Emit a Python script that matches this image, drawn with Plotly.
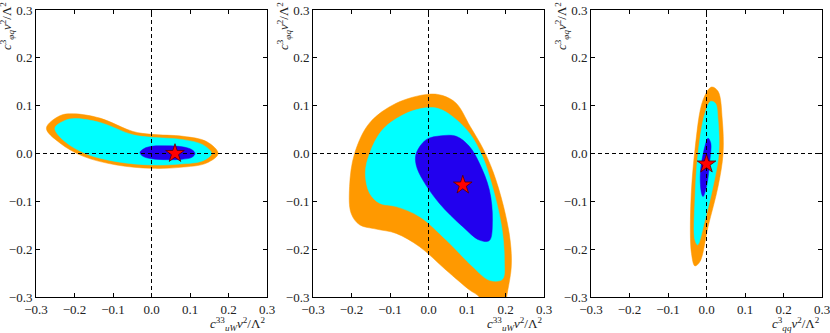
import plotly.graph_objects as go

# ---------------- data ----------------
# Panel 1: c_uW^33 vs c_phiq^3
p1_outer_x = [-0.273, -0.238, -0.203, -0.134, -0.048, 0.0, 0.082, 0.143, 0.173, 0.143, 0.074, 0.0, -0.091, -0.177, -0.238]
p1_outer_y = [0.053, 0.079, 0.083, 0.074, 0.046, 0.040, 0.036, 0.025, 0.0, -0.020, -0.029, -0.031, -0.024, -0.006, 0.022]
p1_mid_x = [-0.251, -0.225, -0.199, -0.134, -0.048, 0.0, 0.082, 0.134, 0.156, 0.134, 0.074, 0.0, -0.091, -0.169, -0.225]
p1_mid_y = [0.053, 0.069, 0.073, 0.065, 0.039, 0.034, 0.029, 0.018, 0.0, -0.015, -0.022, -0.024, -0.017, -0.001, 0.025]
p1_in_x = [-0.030, -0.020, 0.0, 0.040, 0.080, 0.105, 0.113, 0.105, 0.080, 0.040, 0.0, -0.022]
p1_in_y = [0.002, 0.010, 0.015, 0.016, 0.014, 0.008, 0.0, -0.008, -0.012, -0.013, -0.011, -0.006]
p1_best = (0.061, 0.0)

# Panel 2: c_uW^33 vs c_phiq^3 (other fit)
p2_outer_x = [0.0, -0.084, -0.153, -0.192, -0.205, -0.201, -0.179, -0.136, -0.084, -0.023, 0.046, 0.106, 0.132, 0.14, 0.2, 0.203, 0.215, 0.212, 0.195, 0.169, 0.143, 0.108, 0.072, 0.037]
p2_outer_y = [0.124, 0.105, 0.064, 0.0, -0.069, -0.125, -0.149, -0.158, -0.167, -0.195, -0.244, -0.285, -0.30, -0.32, -0.32, -0.30, -0.237, -0.181, -0.111, -0.041, 0.008, 0.057, 0.105, 0.121]
p2_mid_x = [0.0, -0.058, -0.119, -0.153, -0.164, -0.153, -0.127, -0.084, -0.023, 0.046, 0.115, 0.158, 0.192, 0.197, 0.190, 0.166, 0.140, 0.106, 0.063, 0.029]
p2_mid_y = [0.096, 0.084, 0.050, 0.0, -0.041, -0.083, -0.104, -0.111, -0.132, -0.181, -0.237, -0.265, -0.263, -0.222, -0.153, -0.069, -0.006, 0.043, 0.077, 0.093]
p2_in_x = [0.033, -0.006, -0.032, -0.032, -0.015, 0.028, 0.089, 0.132, 0.158, 0.166, 0.158, 0.132, 0.106, 0.072]
p2_in_y = [0.037, 0.029, 0.0, -0.024, -0.055, -0.104, -0.153, -0.181, -0.182, -0.139, -0.076, -0.020, 0.015, 0.036]
p2_best = (0.089, -0.066)

# Panel 3: c_qq^3 vs c_phiq^3
p3_outer_x = [0.013, -0.009, -0.030, -0.041, -0.039, -0.030, -0.017, 0.004, 0.030, 0.043, 0.041, 0.030]
p3_outer_y = [0.139, 0.112, 0.008, -0.111, -0.209, -0.235, -0.226, -0.153, -0.069, 0.0, 0.070, 0.130]
p3_mid_x = [0.011, -0.004, -0.022, -0.030, -0.030, -0.023, -0.004, 0.017, 0.032, 0.030, 0.023]
p3_mid_y = [0.109, 0.084, 0.0, -0.097, -0.181, -0.191, -0.139, -0.069, 0.0, 0.070, 0.105]
p3_in_x = [0.004, -0.004, -0.016, -0.013, -0.009, 0.0, 0.009, 0.011]
p3_in_y = [0.032, 0.015, -0.041, -0.083, -0.090, -0.069, -0.013, 0.022]
p3_best = (0.0, -0.022)

tick_vals = [-0.3, -0.2, -0.1, 0.0, 0.1, 0.2, 0.3]
x_labels = ["<i>c</i><sup>33</sup><sub><i>uW</i></sub><i>v</i><sup>2</sup>/Λ<sup>2</sup>",
            "<i>c</i><sup>33</sup><sub><i>uW</i></sub><i>v</i><sup>2</sup>/Λ<sup>2</sup>",
            "<i>c</i><sup>3</sup><sub><i>qq</i></sub><i>v</i><sup>2</sup>/Λ<sup>2</sup>"]
y_label = "<i>c</i><sup>3</sup><sub><i>φq</i></sub><i>v</i><sup>2</sup>/Λ<sup>2</sup>"

ORANGE = "#FF9900"
CYAN = "#00FFFF"
BLUE = "#2200EE"

panels = [
    (p1_outer_x, p1_outer_y, p1_mid_x, p1_mid_y, p1_in_x, p1_in_y, p1_best),
    (p2_outer_x, p2_outer_y, p2_mid_x, p2_mid_y, p2_in_x, p2_in_y, p2_best),
    (p3_outer_x, p3_outer_y, p3_mid_x, p3_mid_y, p3_in_x, p3_in_y, p3_best),
]

W, H = 830, 333
x_domains = [[36 / W, 267 / W], [313 / W, 544 / W], [591 / W, 822 / W]]
y_domain = [1 - 297 / H, 1 - 10 / H]

fig = go.Figure()
FONT = "Liberation Serif, DejaVu Serif, serif"

for i, (ox, oy, mx, my, ix, iy, best) in enumerate(panels):
    xa = "x" if i == 0 else f"x{i+1}"
    ya = "y" if i == 0 else f"y{i+1}"
    for xs, ys, col in [(ox, oy, ORANGE), (mx, my, CYAN), (ix, iy, BLUE)]:
        fig.add_trace(go.Scatter(
            x=xs + [xs[0]], y=ys + [ys[0]], mode="lines", fill="toself",
            fillcolor=col, line=dict(color=col, width=0.5, shape="spline", smoothing=1.0),
            xaxis=xa, yaxis=ya, showlegend=False, hoverinfo="skip"))
    # dashed zero lines
    fig.add_trace(go.Scatter(x=[-0.3, 0.3], y=[0, 0], mode="lines",
                             line=dict(color="black", width=1, dash="4px,3px"),
                             xaxis=xa, yaxis=ya, showlegend=False, hoverinfo="skip"))
    fig.add_trace(go.Scatter(x=[0, 0], y=[-0.3, 0.3], mode="lines",
                             line=dict(color="black", width=1, dash="4px,3px"),
                             xaxis=xa, yaxis=ya, showlegend=False, hoverinfo="skip"))
    fig.add_trace(go.Scatter(x=[best[0]], y=[best[1]], mode="markers",
                             marker=dict(symbol="star", size=14, color="#FF0000",
                                         line=dict(color="#550000", width=0.8)),
                             xaxis=xa, yaxis=ya, showlegend=False, hoverinfo="skip"))

    axis_common = dict(range=[-0.3, 0.3], tickvals=tick_vals, tickformat=".1f",
                       showgrid=False, zeroline=False, showline=True, linecolor="black",
                       linewidth=1, mirror="ticks", ticks="inside", ticklen=4,
                       tickcolor="black", automargin=False, ticklabeloverflow="allow",
                       tickfont=dict(family=FONT, size=13, color="#222"))
    xkey = "xaxis" if i == 0 else f"xaxis{i+1}"
    ykey = "yaxis" if i == 0 else f"yaxis{i+1}"
    fig.update_layout({
        xkey: dict(domain=x_domains[i], anchor=ya, **axis_common),
        ykey: dict(domain=y_domain, anchor=xa, **axis_common),
    })
    fig.add_annotation(text=x_labels[i], xref=f"{xa} domain", yref=f"{ya} domain",
                       x=1.0, y=0, xanchor="right", yanchor="top", yshift=-16,
                       showarrow=False, font=dict(family=FONT, size=13, color="#222"))
    fig.add_annotation(text=y_label, xref=f"{xa} domain", yref=f"{ya} domain",
                       x=0, y=1.035, xanchor="right", yanchor="top", xshift=-18,
                       textangle=-90, showarrow=False,
                       font=dict(family=FONT, size=13, color="#222"))

fig.update_layout(width=W, height=H,
                  margin=dict(l=0, r=0, t=0, b=0, pad=0, autoexpand=False),
                  paper_bgcolor="white", plot_bgcolor="white")
fig.write_html("out.html", config={"displayModeBar": False},
               post_script="document.body.style.margin='0';")
